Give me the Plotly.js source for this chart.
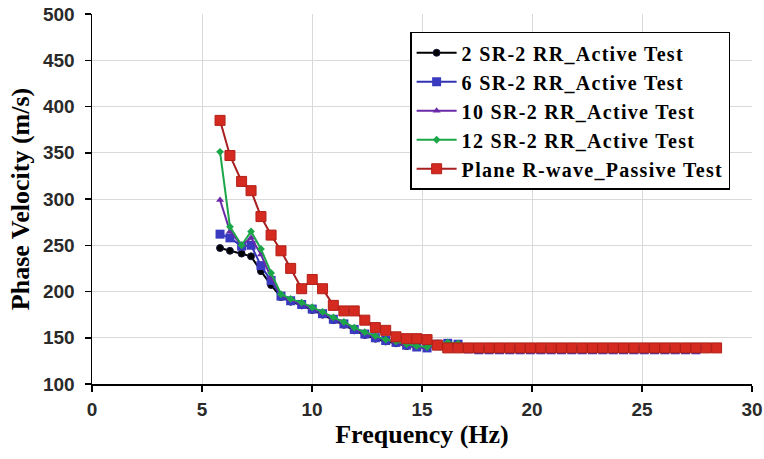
<!DOCTYPE html>
<html>
<head>
<meta charset="utf-8">
<script src="https://cdn.plot.ly/plotly-3.0.1.min.js"></script>
<style>html,body{margin:0;padding:0;background:#fff;}#chart{width:764px;height:459px;}
.legendtext{letter-spacing:1.3px;}</style>
</head>
<body>
<div id="chart"></div>
<script>
// Frequency grid (Hz) for the active tests
const freqActive = [5.82, 6.27, 6.80, 7.23, 7.68, 8.14, 8.59, 9.03, 9.53, 10.01, 10.48, 10.97, 11.45, 11.92, 12.40, 12.88, 13.35, 13.82, 14.30, 14.76, 15.23, 15.70, 16.17, 16.64, 17.11, 17.58, 18.05, 18.52, 18.99, 19.46, 19.93, 20.40, 20.87, 21.34, 21.81, 22.28, 22.75, 23.22, 23.69, 24.16, 24.63, 25.10, 25.57, 26.04, 26.51, 26.98, 27.45];
// Frequency grid (Hz) for the passive test
const freqPassive = [5.82, 6.27, 6.80, 7.23, 7.68, 8.14, 8.59, 9.03, 9.53, 10.01, 10.48, 10.97, 11.45, 11.92, 12.40, 12.88, 13.35, 13.82, 14.30, 14.76, 15.23, 15.70, 16.17, 16.64, 17.11, 17.58, 18.05, 18.52, 18.99, 19.46, 19.93, 20.40, 20.87, 21.34, 21.81, 22.28, 22.75, 23.22, 23.69, 24.16, 24.63, 25.10, 25.57, 26.04, 26.51, 26.98, 27.45, 27.92, 28.39];

const sr2 = [247, 244, 241, 238, 222, 207, 194, 189, 185, 180, 175, 169, 164, 158, 153, 149, 146, 144, 141, 140, 139, 142, 143, 142, 138, 137, 137, 137, 137, 137, 137, 137, 137, 137, 137, 137, 137, 137, 137, 137, 137, 137, 137, 137, 137, 137, 137];
const sr6 = [262, 258, 249, 250, 228, 212, 195, 190, 186, 181, 176, 170, 165, 159, 154, 150, 147, 145, 142, 140, 139, 143, 144, 143, 138, 137, 137, 137, 137, 137, 137, 137, 137, 137, 137, 137, 137, 137, 137, 137, 137, 137, 137, 137, 137, 137, 137];
const sr10 = [299, 265, 250, 258, 240, 215, 196, 191, 187, 182, 177, 171, 166, 160, 155, 151, 148, 145, 142, 140, 139, 143, 144, 143, 138, 137, 137, 137, 137, 137, 137, 137, 137, 137, 137, 137, 137, 137, 137, 137, 137, 137, 137, 137, 137, 137, 137];
const sr12 = [351, 270, 250, 265, 246, 220, 197, 192, 188, 183, 178, 172, 167, 161, 156, 152, 148, 146, 143, 141, 140, 144, 145, 144, 139, 138, 138, 138, 138, 138, 138, 138, 138, 138, 138, 138, 138, 138, 138, 138, 138, 138, 138, 138, 138, 138, 138];
const passive = [385, 347, 319, 309, 281, 261, 244, 225, 203, 213, 203, 185, 179, 179, 169, 161, 158, 151, 149, 149, 148, 142, 139, 139, 139, 139, 139, 139, 139, 139, 139, 139, 139, 139, 139, 139, 139, 139, 139, 139, 139, 139, 139, 139, 139, 139, 139, 139, 139];

const seriesNames = ['2 SR-2 RR_Active Test', '6 SR-2 RR_Active Test', '10 SR-2 RR_Active Test', '12 SR-2 RR_Active Test', 'Plane R-wave_Passive Test'];
const xTicks = [0, 5, 10, 15, 20, 25, 30];
const yTicks = [100, 150, 200, 250, 300, 350, 400, 450, 500];

const traces = [
  {x: freqActive, y: sr2, name: seriesNames[0], legendgroup: 'a', mode: 'lines+markers',
   line: {color: '#000000', width: 2}, marker: {symbol: 'circle', size: 7, color: '#000000', line: {color: '#1a1a40', width: 1}}},
  {x: freqActive, y: sr6, name: seriesNames[1], legendgroup: 'b', mode: 'lines+markers',
   line: {color: '#3333b5', width: 2}, marker: {symbol: 'square', size: 9, color: '#3a3ac0'}},
  {x: freqActive, y: sr10, name: seriesNames[2], legendgroup: 'c', mode: 'lines+markers',
   line: {color: '#6a2aa8', width: 2}, marker: {symbol: 'triangle-up', size: 7, color: '#6a2aa8'}},
  {x: freqActive, y: sr12, name: seriesNames[3], legendgroup: 'd', mode: 'lines+markers',
   line: {color: '#1ca64a', width: 2}, marker: {symbol: 'diamond', size: 6, color: '#1ca64a'}},
  {x: freqPassive, y: passive, name: seriesNames[4], legendgroup: 'e', mode: 'lines+markers',
   line: {color: '#a82020', width: 2}, marker: {symbol: 'square', size: 10, color: '#d42a20', line: {color: '#b22018', width: 1}}}
];

const tickFont = {family: '"Liberation Sans", Arial, sans-serif', size: 19, color: '#2a2a2a', weight: 'bold'};
const titleFont = {family: '"Liberation Serif", "Times New Roman", serif', size: 26, color: '#000000', weight: 'bold'};

const layout = {
  width: 764, height: 459,
  margin: {l: 92, r: 12, t: 14, b: 75},
  paper_bgcolor: '#ffffff', plot_bgcolor: '#ffffff',
  showlegend: true,
  legend: {
    x: 0.482, y: 0.952, xanchor: 'left', yanchor: 'top',
    bgcolor: '#ffffff', bordercolor: '#000000', borderwidth: 1.5,
    font: {family: '"Liberation Serif", "Times New Roman", serif', size: 20, color: '#000000', weight: 'bold'},
    tracegroupgap: 0, itemwidth: 40
  },
  xaxis: {
    range: [0, 30], tickvals: xTicks, ticktext: xTicks.map(String),
    showgrid: true, gridcolor: '#d9d9d9', gridwidth: 1,
    showline: true, linecolor: '#000000', linewidth: 1.5, mirror: false,
    ticks: 'outside', ticklen: 6, tickcolor: '#000000', tickwidth: 1.5,
    tickfont: tickFont, zeroline: false, ticklabelstandoff: 2,
    title: {text: 'Frequency (Hz)', font: titleFont, standoff: 2}
  },
  yaxis: {
    range: [100, 500], tickvals: yTicks, ticktext: yTicks.map(String),
    showgrid: true, gridcolor: '#d9d9d9', gridwidth: 1,
    showline: true, linecolor: '#000000', linewidth: 1.5,
    ticks: 'outside', ticklen: 6, tickcolor: '#000000', tickwidth: 1.5,
    tickfont: tickFont, zeroline: false, ticklabelstandoff: 6,
    title: {text: 'Phase Velocity (m/s)', font: titleFont, standoff: 6}
  }
};

Plotly.newPlot('chart', traces, layout, {staticPlot: true, displayModeBar: false});
</script>
</body>
</html>
